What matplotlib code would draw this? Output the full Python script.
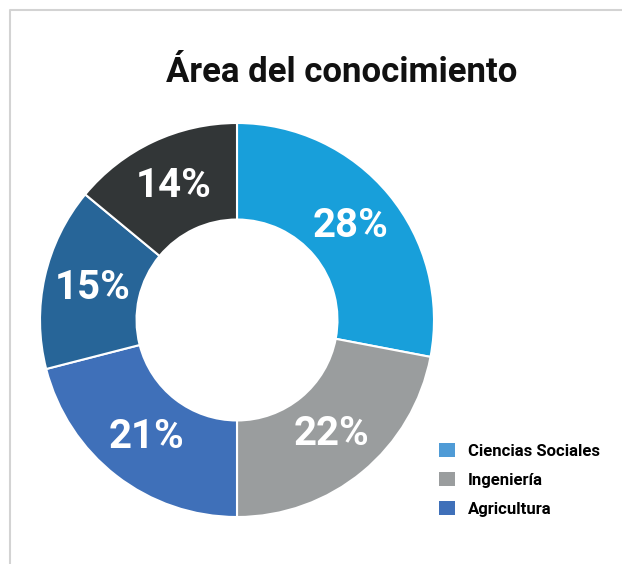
import matplotlib.pyplot as plt
from matplotlib.lines import Line2D
from matplotlib.patches import Patch

# datos
areas = ["Ciencias Sociales", "Ingeniería", "Agricultura", "Otros 1", "Otros 2"]
porcentajes = [28, 22, 21, 15, 14]
colores = ["#189fda", "#9a9d9e", "#3f70b9", "#276598", "#323637"]
leyenda = ["Ciencias Sociales", "Ingeniería", "Agricultura"]
colores_leyenda = ["#4f9bd6", "#9a9d9e", "#3f70b9"]

plt.rcParams['font.family'] = ['Roboto', 'DejaVu Sans']

fig = plt.figure(figsize=(6.22, 5.64), dpi=100)

# marco gris claro (arriba e izquierda)
fig.add_artist(Line2D([10 / 622, 10 / 622, 1.0], [0.0, 1 - 10 / 564, 1 - 10 / 564],
                      transform=fig.transFigure, color="#d3d3d3", lw=1.5))

fig.text(342 / 622, 1 - 72 / 564, "Área del conocimiento", ha="center", va="center",
         fontsize=25, fontweight="bold", color="#111111")

ax = fig.add_axes([40 / 622, 47 / 564, 394 / 622, 394 / 564])
wedges, texts = ax.pie(porcentajes, colors=colores, startangle=90, counterclock=False,
                       radius=1.0, labels=[f"{p}%" for p in porcentajes],
                       labeldistance=0.75,
                       wedgeprops=dict(width=0.49, edgecolor="white", linewidth=1.5),
                       textprops=dict(color="white", fontsize=29, fontweight="bold"))
for t in texts:
    t.set_horizontalalignment("center")
    t.set_verticalalignment("center")
ax.set_xlim(-1, 1)
ax.set_ylim(-1, 1)
ax.set_aspect("equal")
ax.axis("off")

handles = [Patch(facecolor=c, edgecolor="none") for c in colores_leyenda]
fig.legend(handles, leyenda, loc="upper left", bbox_to_anchor=(439 / 622, 1 - 443 / 564),
           frameon=False, prop=dict(weight="bold", size=12),
           borderpad=0, borderaxespad=0,
           handlelength=0.95, handleheight=0.95, handletextpad=0.8, labelspacing=0.78)

fig.savefig("out.png", dpi=100, facecolor="white")
